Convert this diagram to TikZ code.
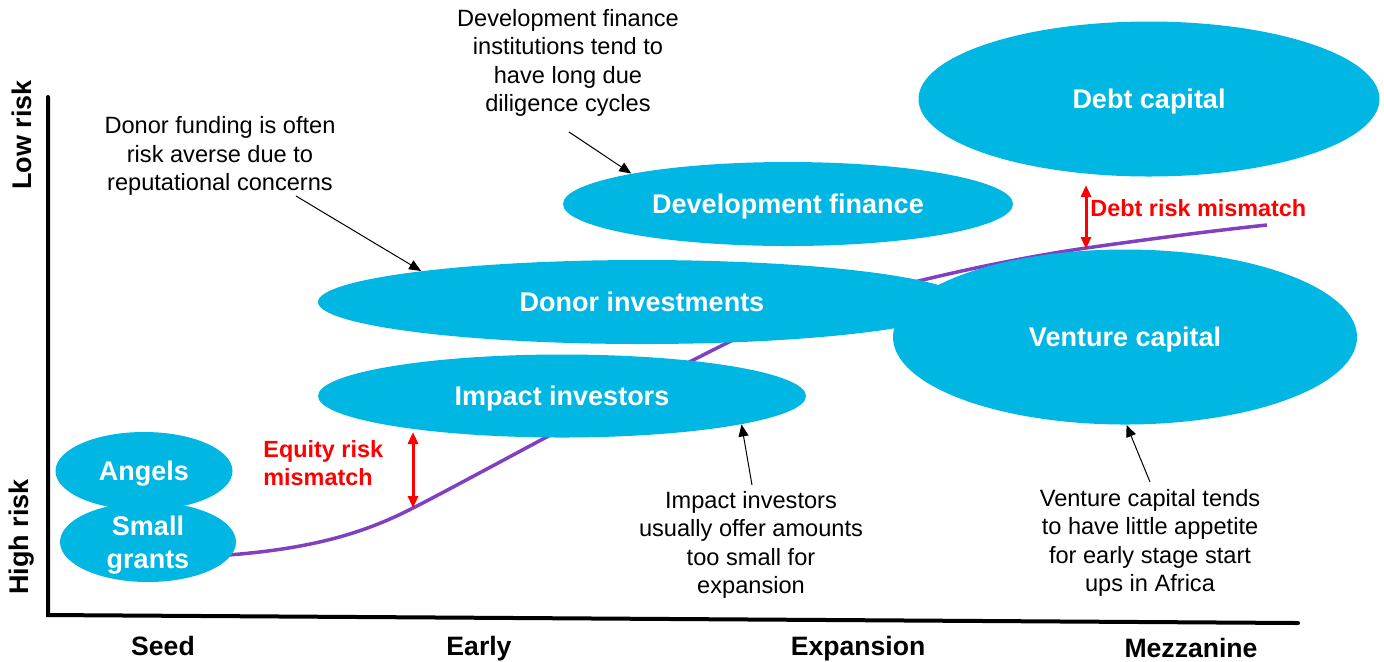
\documentclass[tikz,border=0pt]{standalone}
\usepackage{fontspec}
\setmainfont{Liberation Sans}
\usetikzlibrary{shapes.geometric,arrows.meta}
\definecolor{cyanfill}{RGB}{0,183,228}
\definecolor{curvepurple}{RGB}{128,64,192}
\definecolor{mismatchred}{RGB}{255,0,0}
\begin{document}
\begin{tikzpicture}[x=0.5pt,y=-0.5pt,
 fund/.style={ellipse,fill=cyanfill,inner sep=0pt,text=white,text height=9.7pt,text depth=0pt,font=\fontsize{13.5}{16.5}\selectfont\bfseries,align=center},
 note/.style={inner sep=0pt,align=center,font=\fontsize{11.8}{14.25}\selectfont},
 annot/.style={-{Triangle[length=6pt,width=5pt]},line width=0.5pt},
 redlbl/.style={inner sep=0pt,align=left,text=mismatchred,font=\fontsize{11.7}{14}\selectfont\bfseries},
 redarrow/.style={{Triangle[length=6pt,width=5pt]}-{Triangle[length=6pt,width=5pt]},line width=1.5pt,draw=mismatchred},
 stage/.style={inner sep=0pt,anchor=base,font=\fontsize{13.3}{16}\selectfont\bfseries},
 risk/.style={inner sep=0pt,rotate=90,font=\fontsize{13.5}{16}\selectfont\bfseries},
 axisline/.style={line width=2pt,line cap=round},
 curve/.style={draw=curvepurple,line width=1.75pt}]
\useasboundingbox (0,0) rectangle (1384,661);

% axes
\coordinate (origin) at (48,615);
\coordinate (ytop) at (48,97);
\coordinate (xend) at (1298,623);
\draw[axisline] (ytop) -- (origin) -- (xend);

% risk curve
\coordinate (c0) at (228,555);
\coordinate (c1) at (413,508);
\coordinate (c2) at (733,340);
\coordinate (c3) at (1086,248);
\coordinate (c4) at (1267,225);
\draw[curve] (c0) .. controls (320,548) and (370,530) .. (c1)
  .. controls (470,479) and (620,396) .. (c2)
  .. controls (800,309) and (950,268) .. (c3)
  .. controls (1150,239) and (1210,231) .. (c4);

% funding ellipses
\node[fund,minimum width=230.5pt,minimum height=77.5pt] (debt) at (1149,99) {Debt capital};
\node[fund,minimum width=225pt,minimum height=42pt] (devfin) at (788,204) {Development finance};
\node[fund,minimum width=324pt,minimum height=42pt] (donorinv) at (642,302) {Donor investments};
\node[fund,minimum width=244pt,minimum height=41.5pt] (impact) at (562,396) {Impact investors};
\node[fund,minimum width=232pt,minimum height=87.5pt] (vc) at (1125,337) {Venture capital};
\node[fund,minimum width=88.5pt,minimum height=39pt] (angels) at (144,471) {Angels};
\node[fund,minimum width=88pt,minimum height=40pt,text height=26.2pt] (grants) at (148,542) {Small\\grants};

% annotations
\node[note] (devtext) at (568,63) {Development finance\\institutions tend to\\have long due\\diligence cycles};
\node[note] (donortext) at (220,156) {Donor funding is often\\risk averse due to\\reputational concerns};
\node[note] (impacttext) at (751,545) {Impact investors\\usually offer amounts\\too small for\\expansion};
\node[note] (vctext) at (1150,543) {Venture capital tends\\to have little appetite\\for early stage start\\ups in Africa};

\coordinate (devstart) at (569,132);
\coordinate (donorstart) at (296,196);
\coordinate (impactstart) at (752,485);
\coordinate (vcstart) at (1150,482);
\draw[annot] (devstart) -- (devfin.169);
\draw[annot] (donorstart) -- (donorinv.172);
\draw[annot] (impactstart) -- (impact.-9.5);
\draw[annot] (vcstart) -- (vc.-89);

% mismatches
\node[redlbl,anchor=west] (eqlbl) at (263,463) {Equity risk\\mismatch};
\node[redlbl,anchor=west] (debtlbl) at (1090,208) {Debt risk mismatch};
\coordinate (eqtop) at (413,432);
\coordinate (eqbot) at (413,508);
\coordinate (debttop) at (1086,185);
\coordinate (debtbot) at (1086,249);
\draw[redarrow] (eqtop) -- (eqbot);
\draw[redarrow] (debttop) -- (debtbot);

% axis labels
\node[risk] (lowrisk) at (22,135) {Low risk};
\node[risk] (highrisk) at (22,537) {High risk};
\node[stage] (seed) at (163,655) {Seed};
\node[stage] (early) at (479,655) {Early};
\node[stage] (expansion) at (858,655) {Expansion};
\node[stage] (mezz) at (1191,657) {Mezzanine};
\end{tikzpicture}
\end{document}
